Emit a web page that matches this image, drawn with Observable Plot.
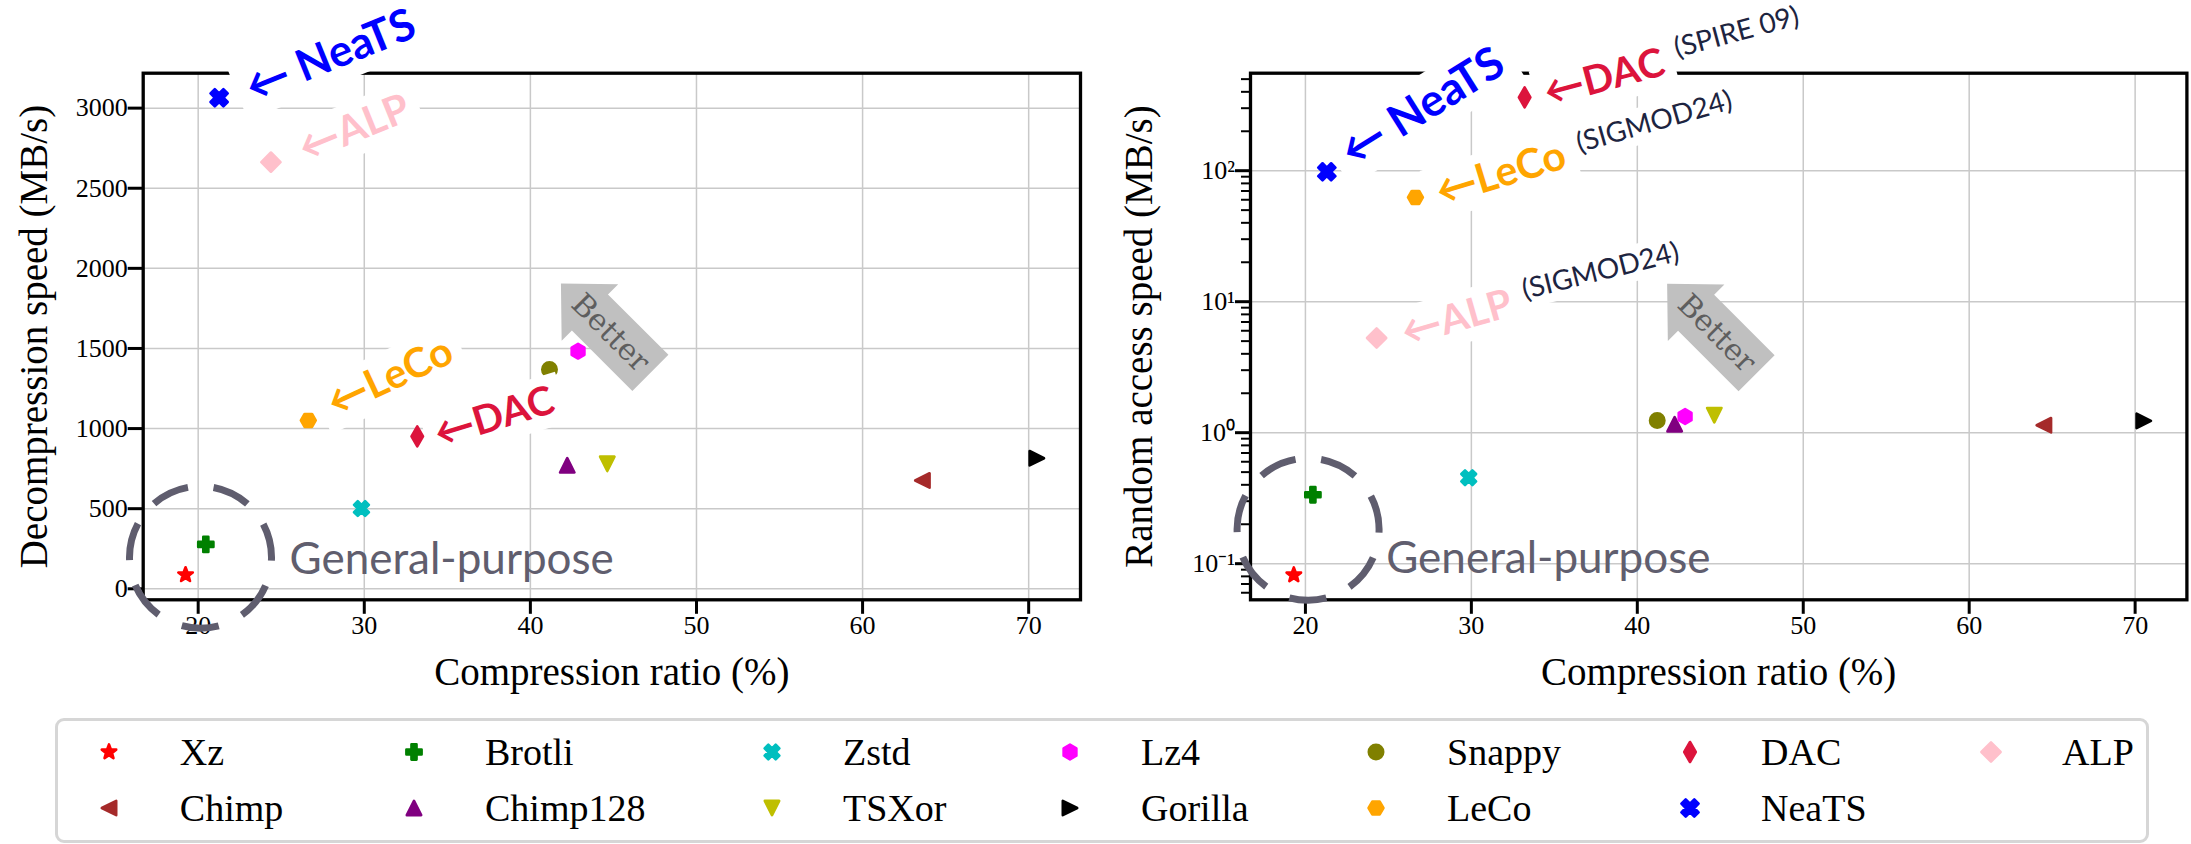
<!DOCTYPE html>
<html>
<head>
<meta charset="utf-8">
<script src="https://cdn.jsdelivr.net/npm/d3@7"></script>
<script src="https://cdn.jsdelivr.net/npm/@observablehq/plot@0.6"></script>
<style>
html, body { margin: 0; padding: 0; background: #fff; }
#root { position: relative; width: 2191px; height: 844px; overflow: hidden; background: #fff; }
.panel { position: absolute; top: 0; }
.legend { position: absolute; box-sizing: border-box; border: 3px solid #d6d6d6; border-radius: 9px; }
.item { position: absolute; font-family: "Liberation Serif", serif; font-size: 38px; line-height: 1; white-space: nowrap; color: #000; }
</style>
</head>
<body>
<div id="root"></div>
<script>
// ---------------- DATA ----------------
const methods = ["Xz", "Chimp", "Brotli", "Chimp128", "Zstd", "TSXor", "Lz4", "Gorilla", "Snappy", "LeCo", "DAC", "NeaTS", "ALP"];
// left panel: compression ratio (%) and decompression speed (MB/s)
const ratioDecomp = [19.24, 63.6, 20.46, 42.22, 29.83, 44.63, 42.87, 70.49, 41.15, 26.63, 33.19, 21.26, 24.38];
const decompSpeed = [87, 676, 277, 771, 501, 780, 1483, 815, 1369, 1051, 951, 3065, 2663];
// right panel: compression ratio (%) and random access speed (MB/s)
const ratioRandom = [19.3, 64.5, 20.45, 42.25, 29.84, 44.64, 42.88, 70.52, 41.2, 26.63, 33.21, 21.29, 24.29];
const randomSpeed = [0.082, 1.14, 0.336, 1.16, 0.453, 1.36, 1.33, 1.23, 1.24, 62.5, 363, 98, 5.28];

const xTicks = [20, 30, 40, 50, 60, 70];
const decompTicks = [0, 500, 1000, 1500, 2000, 2500, 3000];
const randomTicks = [0.1, 1, 10, 100];
const randomTickLabels = ["10\u207B\u00B9", "10\u2070", "10\u00B9", "10\u00B2"];
const randomMinorTicks = [0.06, 0.07, 0.08, 0.09, 0.2, 0.3, 0.4, 0.5, 0.6, 0.7, 0.8, 0.9,
  2, 3, 4, 5, 6, 7, 8, 9, 20, 30, 40, 50, 60, 70, 80, 90, 200, 300, 400, 500];

// annotation anchors (data coordinates)
const circleDecomp = {x: 20.14, y: 197};
const circleRandom = {x: 20.16, y: 0.183};
const generalDecomp = {x: 25.5, y: 179};
const generalRandom = {x: 24.87, y: 0.108};
const betterDecomp = {x: 44.82, y: 1597};
const betterRandom = {x: 44.78, y: 5.74};

// ---------------- STYLE ----------------
const GRID = "#c9c9c9";
const SERIF = "'Liberation Serif', 'Times New Roman', serif";
const SANS = "Lato, 'DejaVu Sans', sans-serif";
const colorFor = {
  Xz: "#ff0000", Chimp: "#a52a2a", Brotli: "#008000", Chimp128: "#800080", Zstd: "#00bfbf",
  TSXor: "#bfbf00", Lz4: "#ff00ff", Gorilla: "#000000", Snappy: "#808000", LeCo: "#ffa500",
  DAC: "#dc143c", NeaTS: "#0000ff", ALP: "#ffc0cb"
};

const rad = size => Math.sqrt(size / Math.PI);
function poly(ctx, pts) {
  ctx.moveTo(pts[0][0], pts[0][1]);
  for (let i = 1; i < pts.length; i++) ctx.lineTo(pts[i][0], pts[i][1]);
  ctx.closePath();
}
function plusPts(E) {
  const w = E / 3;
  return [[-w,-E],[w,-E],[w,-w],[E,-w],[E,w],[w,w],[w,E],[-w,E],[-w,w],[-E,w],[-E,-w],[-w,-w]];
}
const shapes = {
  star: {draw(ctx, size) {
    const R = rad(size) * 0.95, ri = R * 0.42, pts = [];
    for (let k = 0; k < 10; k++) {
      const a = -Math.PI / 2 + k * Math.PI / 5, rr = k % 2 ? ri : R;
      pts.push([rr * Math.cos(a), rr * Math.sin(a)]);
    }
    poly(ctx, pts);
  }},
  plus: {draw(ctx, size) { poly(ctx, plusPts(rad(size) * 0.95)); }},
  x: {draw(ctx, size) {
    const c = Math.SQRT1_2;
    poly(ctx, plusPts(rad(size) * 0.98).map(([x, y]) => [(x - y) * c, (x + y) * c]));
  }},
  hexV: {draw(ctx, size) {
    const R = rad(size) * 0.92, pts = [];
    for (let k = 0; k < 6; k++) { const a = -Math.PI / 2 + k * Math.PI / 3; pts.push([R * Math.cos(a), R * Math.sin(a)]); }
    poly(ctx, pts);
  }},
  hexH: {draw(ctx, size) {
    const R = rad(size) * 0.93, pts = [];
    for (let k = 0; k < 6; k++) { const a = k * Math.PI / 3; pts.push([R * Math.cos(a), R * Math.sin(a)]); }
    poly(ctx, pts);
  }},
  circle: {draw(ctx, size) { const r = rad(size) * 0.9; ctx.moveTo(r, 0); ctx.arc(0, 0, r, 0, 2 * Math.PI); }},
  diamond: {draw(ctx, size) { const R = rad(size) * 1.2; poly(ctx, [[0,-R],[R,0],[0,R],[-R,0]]); }},
  thinDiamond: {draw(ctx, size) { const h = rad(size) * 1.25, w = rad(size) * 0.72; poly(ctx, [[0,-h],[w,0],[0,h],[-w,0]]); }},
  triUp: {draw(ctx, size) { const a = rad(size) * 0.9; poly(ctx, [[0,-a],[a,a],[-a,a]]); }},
  triDown: {draw(ctx, size) { const a = rad(size) * 0.9; poly(ctx, [[0,a],[a,-a],[-a,-a]]); }},
  triLeft: {draw(ctx, size) { const a = rad(size) * 0.9; poly(ctx, [[-a,0],[a,-a],[a,a]]); }},
  triRight: {draw(ctx, size) { const a = rad(size) * 0.9; poly(ctx, [[a,0],[-a,-a],[-a,a]]); }}
};
const symbolFor = {
  Xz: shapes.star, Chimp: shapes.triLeft, Brotli: shapes.plus, Chimp128: shapes.triUp, Zstd: shapes.x,
  TSXor: shapes.triDown, Lz4: shapes.hexV, Gorilla: shapes.triRight, Snappy: shapes.circle, LeCo: shapes.hexH,
  DAC: shapes.thinDiamond, NeaTS: shapes.x, ALP: shapes.diamond
};
const rFor = Object.fromEntries(methods.map(m => [m, m === "NeaTS" ? 9.3 : 8]));
const MARKER_EDGE = 2.6;

// dashed circle drawn from the bottom point
const ringSymbol = {draw(ctx, size) {
  const r = rad(size);
  ctx.moveTo(0, r);
  ctx.arc(0, 0, r, Math.PI / 2, Math.PI / 2 + 2 * Math.PI);
}};
// "Better" left-arrow box rotated to point up-left
const betterSymbol = {draw(ctx) {
  const c = Math.SQRT1_2;
  const uv = [[-56.5, 25.5], [29, 25.5], [29, 40], [70, 0], [29, -40], [29, -25.5], [-56.5, -25.5]];
  poly(ctx, uv.map(([u, v]) => [(-u + v) * c, (-u - v) * c]));
}};
function boxSymbol(w, h, pad, rotDeg) {
  const a = rotDeg * Math.PI / 180, c = Math.cos(a), s = Math.sin(a);
  const pts = [[-pad, -h / 2], [w + pad, -h / 2], [w + pad, h / 2], [-pad, h / 2]]
    .map(([x, y]) => [x * c - y * s, x * s + y * c]);
  return {draw(ctx) { poly(ctx, pts); }};
}
const measureCtx = document.createElement("canvas").getContext("2d");
function measure(text, size, weight) {
  measureCtx.font = `${weight} ${size}px Lato, "DejaVu Sans", sans-serif`;
  return measureCtx.measureText(text).width;
}

// label configuration (pixel offsets from each method's point)
const leftLabels = [
  {method: "NeaTS", text: "\u2190 NeaTS", rotate: -22, dx: 28.5, dy: -8, size: 44},
  {method: "ALP", text: "\u2190ALP", rotate: -22, dx: 29.6, dy: -11.7, size: 41},
  {method: "LeCo", text: "\u2190LeCo", rotate: -25, dx: 21.4, dy: -15, size: 41},
  {method: "DAC", text: "\u2190DAC", rotate: -17, dx: 18.2, dy: -1, size: 40}
];
const rightLabels = [
  {method: "NeaTS", text: "\u2190 NeaTS", rotate: -32, dx: 18.3, dy: -16, size: 45},
  {method: "DAC", text: "\u2190DAC", rotate: -15, dx: 20.4, dy: -3.4, size: 40},
  {method: "LeCo", text: "\u2190LeCo", rotate: -17, dx: 21.7, dy: -4, size: 41},
  {method: "ALP", text: "\u2190ALP", rotate: -16, dx: 25.8, dy: -4, size: 40}
];
const rightVenues = [
  {method: "DAC", text: "(SPIRE 09)", rotate: -15, dx: 150, dy: -48.4, size: 28},
  {method: "LeCo", text: "(SIGMOD24)", rotate: -16, dx: 161.5, dy: -53.4, size: 28},
  {method: "ALP", text: "(SIGMOD24)", rotate: -14, dx: 146, dy: -47.3, size: 28}
];

function labelMarks(rows, list, colorOf, weight) {
  const boxes = [], texts = [];
  for (const lbl of list) {
    const data = rows.filter(d => d.method === lbl.method);
    const w = measure(lbl.text, lbl.size, weight);
    boxes.push(Plot.dot(data, {x: "ratio", y: "speed", r: 1, dx: lbl.dx, dy: lbl.dy,
      symbol: boxSymbol(w, 1.3 * lbl.size, 0.25 * lbl.size, lbl.rotate), fill: "white"}));
    texts.push(Plot.text(data, {x: "ratio", y: "speed", text: () => lbl.text, dx: lbl.dx, dy: lbl.dy,
      rotate: lbl.rotate, textAnchor: "start", lineAnchor: "middle", fontSize: lbl.size,
      fontWeight: weight, fontFamily: SANS, fill: colorOf(lbl)}));
  }
  return {boxes, texts};
}

function makePanel(cfg) {
  const rows = methods.map((m, i) => ({method: m, ratio: cfg.ratio[i], speed: cfg.speed[i]}));
  const marks = [];
  marks.push(Plot.gridX(xTicks, {stroke: GRID, strokeOpacity: 1, strokeWidth: 1.5}));
  marks.push(Plot.gridY(cfg.yTicks, {stroke: GRID, strokeOpacity: 1, strokeWidth: 1.5}));
  marks.push(Plot.dot([cfg.better], {x: "x", y: "y", r: 1, symbol: betterSymbol, fill: "#c0c0c0"}));
  marks.push(Plot.text([cfg.better], {x: "x", y: "y", text: () => "Better", rotate: 45, textAnchor: "middle",
    lineAnchor: "middle", fontFamily: "'DejaVu Serif', serif", fontSize: 30, fill: "#5e5e5e"}));
  marks.push(Plot.frame({stroke: "black", strokeWidth: 3.3}));
  marks.push(Plot.axisX(xTicks, {tickSize: 14.5, tickPadding: 1.5, fontSize: 26, strokeWidth: 3,
    label: null, tickFormat: d => String(d), fontFamily: SERIF}));
  if (cfg.minor) {
    marks.push(Plot.axisY(cfg.minor, {tickSize: 9, tickPadding: 0, strokeWidth: 2, label: null, tickFormat: () => ""}));
  }
  marks.push(Plot.axisY(cfg.yTicks, {tickSize: 15, tickPadding: 0.5, fontSize: 26, strokeWidth: 3,
    label: null, tickFormat: cfg.yFormat, fontFamily: SERIF}));
  marks.push(Plot.text(["Compression ratio (%)"], {frameAnchor: "bottom", dy: 73.2, text: d => d,
    fontSize: 39, fontFamily: SERIF, lineAnchor: "middle", fill: "black"}));
  marks.push(Plot.text([cfg.ylabel], {frameAnchor: "left", dx: cfg.ylabelDx, rotate: -90, text: d => d,
    fontSize: 39, fontFamily: SERIF, lineAnchor: "middle", textAnchor: "middle", fill: "black"}));
  for (const m of methods) {
    marks.push(Plot.dot(rows.filter(d => d.method === m), {x: "ratio", y: "speed",
      symbol: symbolFor[m], r: rFor[m], fill: colorFor[m], stroke: colorFor[m],
      strokeWidth: MARKER_EDGE, strokeLinejoin: "round"}));
  }
  marks.push(Plot.dot([cfg.circle], {x: "x", y: "y", r: 71, symbol: ringSymbol, fill: "none",
    stroke: "#5f5d6e", strokeWidth: 7, strokeDasharray: "38,25.7", strokeDashoffset: 19}));
  marks.push(Plot.text([cfg.general], {x: "x", y: "y", text: () => "General-purpose", textAnchor: "start",
    lineAnchor: "middle", fontFamily: SANS, fontSize: 44, fill: "#605e6e"}));
  const main = labelMarks(rows, cfg.labels, l => colorFor[l.method], "bold");
  const ven = labelMarks(rows, cfg.venues, () => "#1d2440", "normal");
  marks.push(...main.boxes, ...ven.boxes, ...main.texts, ...ven.texts);

  return Plot.plot({
    width: cfg.width, height: 700,
    marginLeft: cfg.marginLeft, marginRight: cfg.marginRight, marginTop: 72.7, marginBottom: 100.7,
    x: {domain: [16.69, 73.12]},
    y: cfg.y,
    style: {fontFamily: SERIF, background: "transparent", overflow: "visible", color: "black"},
    marks
  });
}

const root = document.getElementById("root");
function place(el, left, width) {
  const d = document.createElement("div");
  d.className = "panel";
  d.style.left = left + "px";
  d.style.width = width + "px";
  d.appendChild(el);
  root.appendChild(d);
}

const labelMap = new Map(randomTicks.map((t, i) => [t, randomTickLabels[i]]));

place(makePanel({
  ratio: ratioDecomp, speed: decompSpeed,
  y: {domain: [-68.7, 3218]}, yTicks: decompTicks, yFormat: d => String(d),
  ylabel: "Decompression speed (MB/s)", ylabelDx: -108.8,
  width: 1100, marginLeft: 142.7, marginRight: 20,
  circle: circleDecomp, general: generalDecomp, better: betterDecomp,
  labels: leftLabels, venues: []
}), 0, 1100);

place(makePanel({
  ratio: ratioRandom, speed: randomSpeed,
  y: {type: "log", domain: [0.053, 555]}, yTicks: randomTicks, yFormat: d => labelMap.get(d),
  minor: randomMinorTicks,
  ylabel: "Random access speed (MB/s)", ylabelDx: -110.7,
  width: 1091, marginLeft: 150, marginRight: 4.6,
  circle: circleRandom, general: generalRandom, better: betterRandom,
  labels: rightLabels, venues: rightVenues
}), 1100, 1091);

// ---------------- LEGEND ----------------
const legend = document.createElement("div");
legend.className = "legend";
Object.assign(legend.style, {left: "55px", top: "718px", width: "2094px", height: "125px"});
root.appendChild(legend);
const colX = [108.8, 414, 772, 1070, 1376, 1690, 1991];
const rowY = [751.7, 808.3];
methods.forEach((m, i) => {
  const cx = colX[Math.floor(i / 2)], cy = rowY[i % 2];
  const svg = d3.create("svg").attr("width", 40).attr("height", 40)
    .style("position", "absolute").style("left", (cx - 20) + "px").style("top", (cy - 20) + "px")
    .style("overflow", "visible");
  svg.append("path").attr("transform", "translate(20,20)")
    .attr("d", d3.symbol(symbolFor[m], Math.PI * rFor[m] * rFor[m])())
    .attr("fill", colorFor[m]).attr("stroke", colorFor[m])
    .attr("stroke-width", MARKER_EDGE).attr("stroke-linejoin", "round");
  root.appendChild(svg.node());
  const t = document.createElement("div");
  t.className = "item";
  t.textContent = m;
  t.style.left = (cx + 71) + "px";
  t.style.top = cy + "px";
  t.style.transform = "translateY(-50%)";
  root.appendChild(t);
});
</script>
</body>
</html>
